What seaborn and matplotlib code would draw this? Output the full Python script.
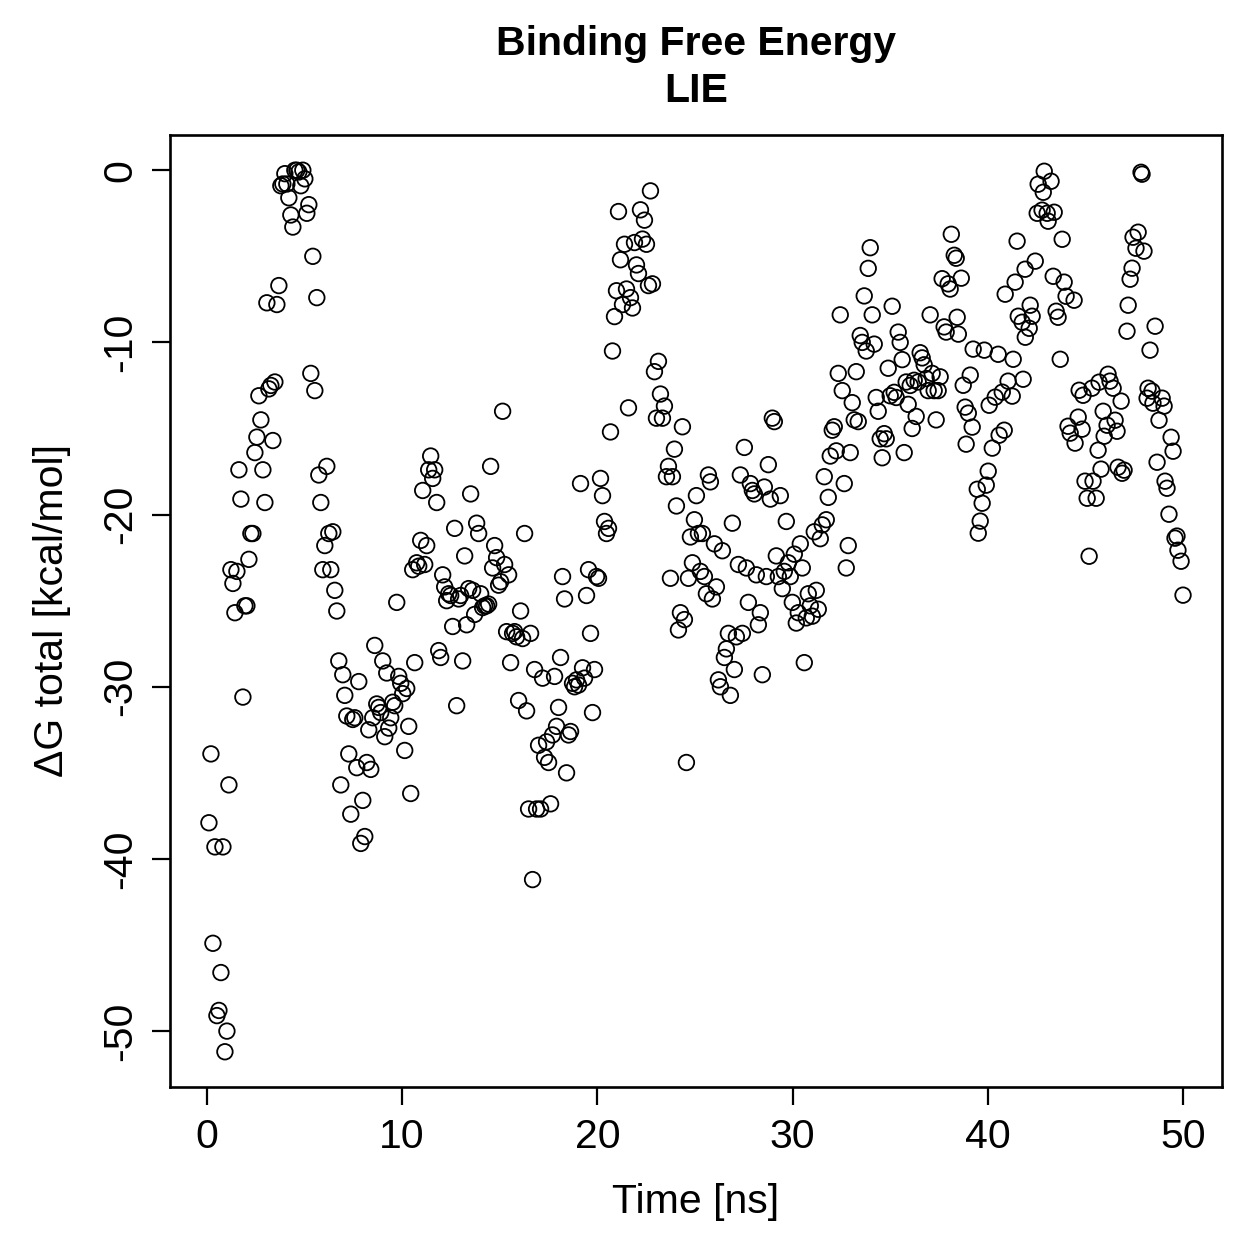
import numpy as np
import pandas as pd
import matplotlib
matplotlib.use("Agg")
import matplotlib.pyplot as plt
import seaborn as sns

# --- data ---
# first stretch: evenly spaced frames from 0.1 ns to ~38.1 ns
t_start, t_end = 0.10, 38.07
dg_part1 = [
    -37.9, -33.9, -44.9, -39.3, -49.1, -48.8, -46.6, -39.3, -51.2, -50.0,
    -35.7, -23.2, -24.0, -25.7, -23.3, -17.4, -19.1, -30.6, -25.3, -25.3,
    -22.6, -21.1, -21.1, -16.4, -15.5, -13.1, -14.5, -17.4, -19.3, -7.7,
    -12.7, -12.5, -15.7, -12.3, -7.8, -6.7, -0.9, -0.8, -0.2, -0.8,
    -1.6, -2.6, -3.3, 0.0, 0.0, -0.1, -0.9, 0.0, -0.5, -2.5,
    -2.0, -11.8, -5.0, -12.8, -7.4, -17.7, -19.3, -23.2, -21.8, -17.2,
    -21.1, -23.2, -21.0, -24.4, -25.6, -28.5, -35.7, -29.3, -30.5, -31.7,
    -33.9, -37.4, -31.9, -31.8, -34.7, -29.7, -39.1, -36.6, -38.7, -34.4,
    -32.5, -34.8, -31.8, -27.6, -31.0, -31.2, -31.5, -28.5, -32.9, -29.2,
    -32.4, -31.8, -30.9, -31.1, -25.1, -29.4, -29.8, -30.4, -33.7, -30.1,
    -32.3, -36.2, -23.2, -28.6, -22.8, -23.0, -21.5, -18.6, -22.9, -21.8,
    -17.4, -16.6, -17.9, -17.4, -19.3, -27.9, -28.3, -23.5, -24.2, -25.0,
    -24.6, -24.7, -26.5, -20.8, -31.1, -24.9, -24.7, -28.5, -22.4, -26.4,
    -24.3, -18.8, -24.4, -25.8, -20.5, -21.1, -24.6, -25.4, -25.3, -25.3,
    -25.2, -17.2, -23.1, -21.8, -22.5, -24.1, -23.9, -14.0, -22.9, -26.8,
    -23.5, -28.6, -26.9, -26.8, -27.1, -30.8, -25.6, -27.2, -21.1, -31.4,
    -37.1, -26.9, -41.2, -29.0, -37.1, -33.4, -37.1, -29.5, -34.1, -33.2,
    -34.4, -36.8, -32.8, -29.4, -32.3, -31.2, -28.3, -23.6, -24.9, -35.0,
    -32.8, -32.6, -29.8, -30.0, -29.6, -29.9, -18.2, -28.9, -29.5, -24.7,
    -23.2, -26.9, -31.5, -29.0, -23.6, -23.7, -17.9, -18.9, -20.4, -21.1,
    -20.8, -15.2, -10.5, -8.5, -7.0, -2.4, -5.2, -7.8, -4.3, -6.9,
    -13.8, -7.4, -8.0, -4.2, -5.5, -6.0, -2.3, -4.0, -2.9, -4.3,
    -6.7, -1.2, -6.6, -11.7, -14.4, -11.1, -13.0, -14.4, -13.7, -17.8,
    -17.2, -23.7, -17.8, -16.2, -19.5, -26.7, -25.7, -14.9, -26.1, -34.4,
    -23.7, -21.3, -22.8, -20.3, -18.9, -21.1, -23.3, -21.1, -23.6, -24.6,
    -17.7, -18.1, -24.9, -21.7, -24.2, -29.6, -30.0, -22.1, -28.3, -27.8,
    -26.9, -30.5, -20.5, -29.0, -27.1, -22.9, -17.7, -26.9, -16.1, -23.1,
    -25.1, -18.2, -18.6, -18.8, -23.5, -26.4, -25.7, -29.3, -18.4, -23.6,
    -17.1, -19.1, -14.4, -14.6, -22.4, -23.6, -18.9, -24.3, -23.3, -20.4,
    -22.8, -23.6, -25.1, -22.3, -26.3, -25.7, -21.7, -23.1, -28.6, -26.0,
    -24.6, -25.3, -25.9, -21.0, -24.4, -25.5, -21.4, -20.6, -17.8, -20.3,
    -19.0, -16.6, -15.1, -14.9, -16.3, -11.8, -8.4, -12.8, -18.2, -23.1,
    -21.8, -16.4, -13.5, -14.5, -11.7, -14.6, -9.6, -10.0, -7.3, -10.5,
    -5.7, -4.5, -8.4, -10.1, -13.2, -14.0, -15.6, -16.7, -15.3, -15.6,
    -11.5, -13.1, -7.9, -12.9, -13.2, -9.4, -10.0, -11.0, -16.4, -12.3,
    -13.6, -12.5, -15.0, -12.2, -14.3, -12.3, -10.6, -10.9, -11.3, -12.1,
    -12.8, -8.4, -11.8, -12.8, -14.5, -12.8, -12.0, -6.3, -9.1, -9.4,
    -6.6, -6.9,
]

# last stretch (38-50 ns), read point by point
time_part2 = [
    38.13, 38.28, 38.38, 38.64, 38.43, 38.49, 38.74, 38.84, 38.89, 39.00,
    39.10, 39.20, 39.25, 39.46, 39.51, 39.61, 39.71, 39.82, 39.92, 40.02,
    40.07, 40.23, 40.38, 40.53, 40.58, 40.74, 40.84, 40.89, 41.04, 41.25,
    41.30, 41.40, 41.50, 41.56, 41.76, 41.81, 41.91, 41.92, 42.12, 42.17,
    42.27, 42.43, 42.53, 42.58, 42.78, 42.84, 42.89, 43.04, 43.09, 43.24,
    43.35, 43.40, 43.50, 43.60, 43.71, 43.81, 43.91, 44.01, 44.11, 44.22,
    44.42, 44.47, 44.63, 44.68, 44.83, 44.88, 44.98, 45.09, 45.19, 45.34,
    45.39, 45.55, 45.65, 45.70, 45.80, 45.96, 45.91, 46.11, 46.16, 46.26,
    46.42, 46.52, 46.62, 46.67, 46.83, 46.88, 46.98, 47.13, 47.19, 47.29,
    47.39, 47.44, 47.59, 47.70, 47.85, 47.90, 48.00, 48.16, 48.21, 48.31,
    48.41, 48.46, 48.57, 48.67, 48.77, 48.93, 49.03, 49.08, 49.18, 49.28,
    49.39, 49.49, 49.59, 49.69, 49.74, 49.90, 50.00,
]
dg_part2 = [
    -3.72, -4.94, -5.11, -6.27, -8.54, -9.52, -12.49, -13.76, -15.91, -14.11,
    -11.90, -14.92, -10.39, -18.53, -21.08, -20.38, -19.34, -10.45, -18.29, -17.48,
    -13.65, -16.14, -13.18, -10.69, -15.39, -12.89, -15.10, -7.20, -12.25, -13.12,
    -10.98, -6.50, -4.12, -8.48, -8.83, -12.14, -5.75, -9.70, -9.18, -7.84,
    -8.48, -5.28, -2.50, -0.81, -2.32, -1.28, -0.06, -2.50, -2.96, -0.64,
    -6.16, -2.44, -8.19, -8.54, -10.98, -4.01, -6.50, -7.32, -14.87, -15.27,
    -7.55, -15.85, -14.34, -12.78, -15.04, -13.07, -18.06, -19.05, -22.42, -12.66,
    -18.06, -19.05, -16.26, -12.31, -17.36, -15.45, -14.00, -14.81, -11.85, -12.25,
    -12.66, -14.52, -15.16, -17.25, -13.41, -17.60, -17.42, -9.35, -7.84, -6.33,
    -5.69, -3.89, -4.53, -3.60, -0.12, -0.23, -4.70, -13.24, -12.66, -10.45,
    -12.83, -13.53, -9.06, -16.96, -14.52, -13.24, -13.70, -18.06, -18.47, -19.98,
    -15.51, -16.32, -21.37, -21.25, -22.07, -22.71, -24.68,
]

time_part1 = np.linspace(t_start, t_end, len(dg_part1))
df = pd.DataFrame({
    "time": np.concatenate([time_part1, time_part2]),
    "dg": np.concatenate([dg_part1, dg_part2]),
})

# --- plot (base-R look) ---
sns.set_style("ticks")
plt.rcParams["font.family"] = ["Liberation Sans", "DejaVu Sans"]
plt.rcParams["font.size"] = 29.5
plt.rcParams["text.color"] = "black"
plt.rcParams["axes.labelcolor"] = "black"

fig = plt.figure(figsize=(12.59, 12.59), dpi=100)
ax = fig.add_axes([0.135, 0.1366, 0.8356, 0.7562])

sns.scatterplot(data=df, x="time", y="dg", ax=ax, s=125, marker="o",
                facecolor="none", edgecolor="black", linewidth=1.3, legend=False)

# R-style 4% padding around the data range
xr = df["time"].max() - df["time"].min()
yr = df["dg"].max() - df["dg"].min()
ax.set_xlim(df["time"].min() - 0.04 * xr, df["time"].max() + 0.04 * xr)
ax.set_ylim(df["dg"].min() - 0.04 * yr, df["dg"].max() + 0.04 * yr)

ax.set_xticks([0, 10, 20, 30, 40, 50])
ax.set_yticks([0, -10, -20, -30, -40, -50])
ax.set_yticklabels(["0", "-10", "-20", "-30", "-40", "-50"], rotation=90, va="center")
ax.tick_params(length=13, width=1.6, pad=9, labelsize=29.5, colors="black")

for sp in ax.spines.values():
    sp.set_visible(True)
    sp.set_linewidth(1.9)
    sp.set_color("black")

ax.set_xlabel("Time [ns]", fontsize=29.5, labelpad=20, color="black")
ax.set_ylabel("ΔG total [kcal/mol]", fontsize=29.5, labelpad=22, color="black")
ax.set_title("Binding Free Energy\nLIE", fontsize=29.5, fontweight="bold",
             pad=24, linespacing=1.3, color="black")

fig.savefig("out.png", dpi=100, facecolor="white")
